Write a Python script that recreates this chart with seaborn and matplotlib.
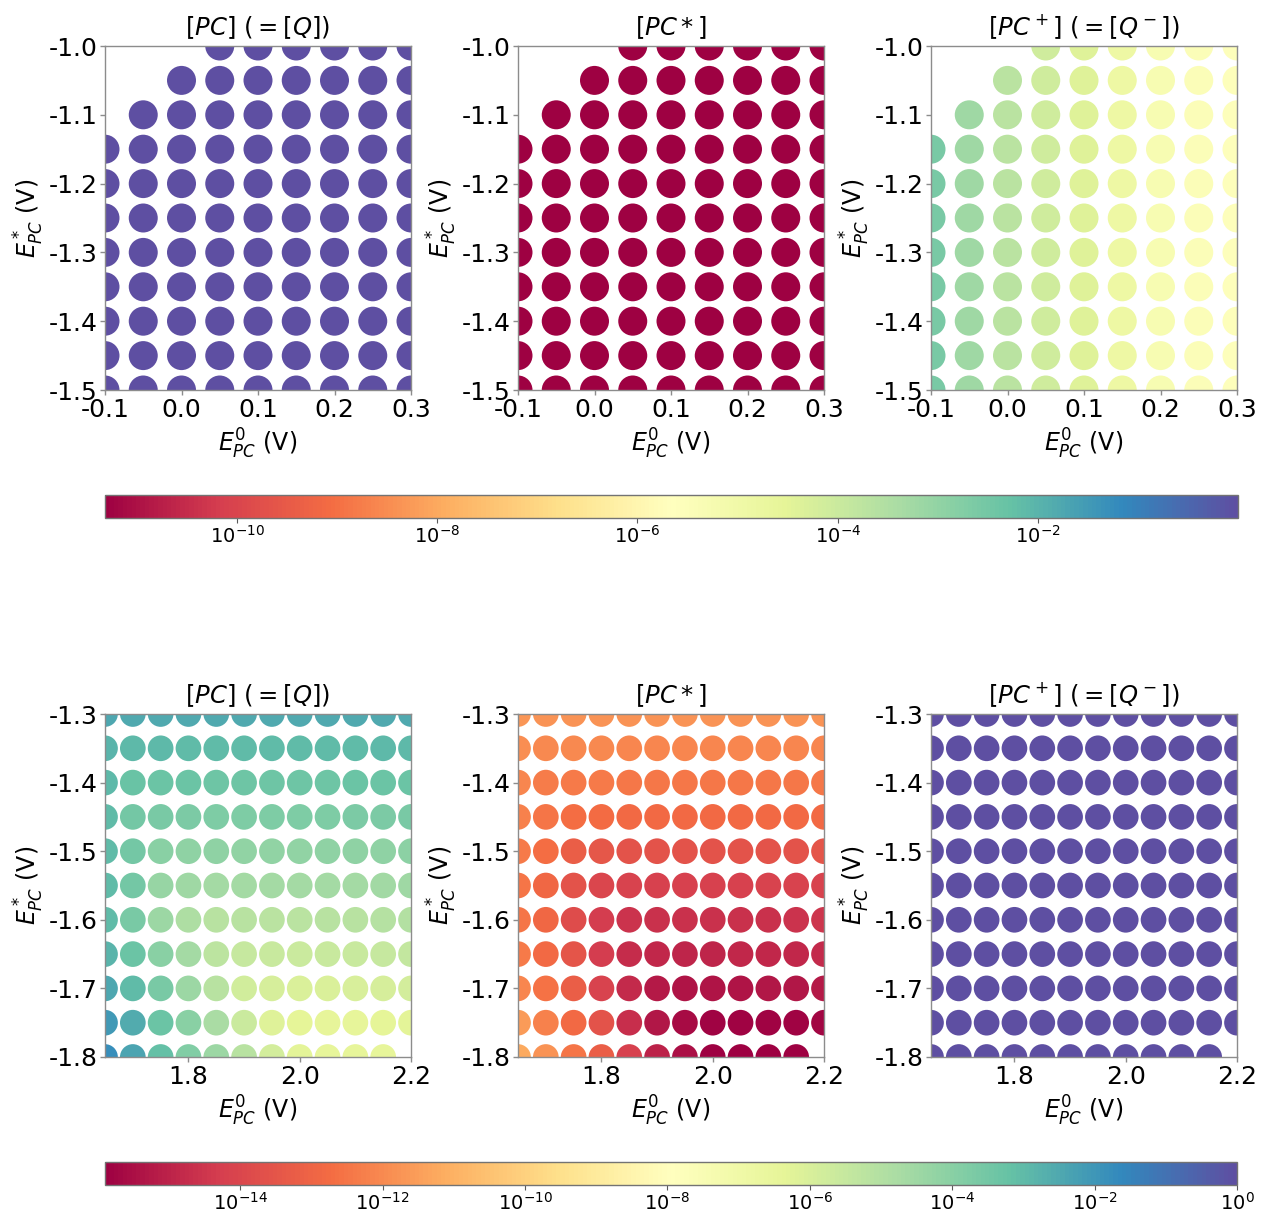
import numpy as np
import pandas as pd
import matplotlib
matplotlib.use("Agg")
import matplotlib.pyplot as plt
from matplotlib.colors import LogNorm
from matplotlib.cm import ScalarMappable
import seaborn as sns

# ---------------- grid axes ----------------
E0_TOP = [-0.10, -0.05, 0.00, 0.05, 0.10, 0.15, 0.20, 0.25, 0.30]
ESTAR_TOP = [-1.00, -1.05, -1.10, -1.15, -1.20, -1.25, -1.30, -1.35, -1.40, -1.45, -1.50]

E0_BOT = [1.65, 1.70, 1.75, 1.80, 1.85, 1.90, 1.95, 2.00, 2.05, 2.10, 2.15, 2.20]
ESTAR_BOT = [-1.30, -1.35, -1.40, -1.45, -1.50, -1.55, -1.60, -1.65, -1.70, -1.75, -1.80]

nan = np.nan

# ---------------- log10 concentrations, rows follow ESTAR, columns follow E0 ----------------
LOG_PC_TOP = [
    [nan, nan, nan, 0.0, 0.0, 0.0, 0.0, 0.0, 0.0],
    [nan, nan, 0.0, 0.0, 0.0, 0.0, 0.0, 0.0, 0.0],
    [nan, 0.0, 0.0, 0.0, 0.0, 0.0, 0.0, 0.0, 0.0],
    [0.0, 0.0, 0.0, 0.0, 0.0, 0.0, 0.0, 0.0, 0.0],
    [0.0, 0.0, 0.0, 0.0, 0.0, 0.0, 0.0, 0.0, 0.0],
    [0.0, 0.0, 0.0, 0.0, 0.0, 0.0, 0.0, 0.0, 0.0],
    [0.0, 0.0, 0.0, 0.0, 0.0, 0.0, 0.0, 0.0, 0.0],
    [0.0, 0.0, 0.0, 0.0, 0.0, 0.0, 0.0, 0.0, 0.0],
    [0.0, 0.0, 0.0, 0.0, 0.0, 0.0, 0.0, 0.0, 0.0],
    [0.0, 0.0, 0.0, 0.0, 0.0, 0.0, 0.0, 0.0, 0.0],
    [0.0, 0.0, 0.0, 0.0, 0.0, 0.0, 0.0, 0.0, 0.0],
]

LOG_PCSTAR_TOP = [
    [nan, nan, nan, -11.32, -11.32, -11.32, -11.32, -11.32, -11.32],
    [nan, nan, -11.32, -11.32, -11.32, -11.32, -11.32, -11.32, -11.32],
    [nan, -11.32, -11.32, -11.32, -11.32, -11.32, -11.32, -11.32, -11.32],
    [-11.32, -11.32, -11.32, -11.32, -11.32, -11.32, -11.32, -11.32, -11.32],
    [-11.32, -11.32, -11.32, -11.32, -11.32, -11.32, -11.32, -11.32, -11.32],
    [-11.32, -11.32, -11.32, -11.32, -11.32, -11.32, -11.32, -11.32, -11.32],
    [-11.32, -11.32, -11.32, -11.32, -11.32, -11.32, -11.32, -11.32, -11.32],
    [-11.32, -11.32, -11.32, -11.32, -11.32, -11.32, -11.32, -11.32, -11.32],
    [-11.32, -11.32, -11.32, -11.32, -11.32, -11.32, -11.32, -11.32, -11.32],
    [-11.32, -11.32, -11.32, -11.32, -11.32, -11.32, -11.32, -11.32, -11.32],
    [-11.32, -11.32, -11.32, -11.32, -11.32, -11.32, -11.32, -11.32, -11.32],
]

LOG_PCPLUS_TOP = [
    [nan, nan, nan, -4.10, -4.40, -4.90, -5.30, -5.45, -5.55],
    [nan, nan, -3.70, -4.10, -4.40, -4.90, -5.30, -5.45, -5.55],
    [nan, -3.20, -3.70, -4.10, -4.40, -4.90, -5.30, -5.45, -5.55],
    [-2.60, -3.20, -3.70, -4.10, -4.40, -4.90, -5.30, -5.45, -5.55],
    [-2.60, -3.20, -3.70, -4.10, -4.40, -4.90, -5.30, -5.45, -5.55],
    [-2.60, -3.20, -3.70, -4.10, -4.40, -4.90, -5.30, -5.45, -5.55],
    [-2.60, -3.20, -3.70, -4.10, -4.40, -4.90, -5.30, -5.45, -5.55],
    [-2.60, -3.20, -3.70, -4.10, -4.40, -4.90, -5.30, -5.45, -5.55],
    [-2.60, -3.20, -3.70, -4.10, -4.40, -4.90, -5.30, -5.45, -5.55],
    [-2.60, -3.20, -3.70, -4.10, -4.40, -4.90, -5.30, -5.45, -5.55],
    [-2.60, -3.20, -3.70, -4.10, -4.40, -4.90, -5.30, -5.45, -5.55],
]

LOG_PC_BOT = [
    [-2.45, -2.50, -2.50, -2.50, -2.50, -2.50, -2.50, -2.50, -2.50, -2.50, -2.50, -2.50],
    [-2.85, -2.95, -2.95, -3.00, -3.00, -3.00, -3.00, -3.00, -3.00, -3.00, -2.95, -2.95],
    [-2.95, -3.25, -3.35, -3.35, -3.40, -3.40, -3.40, -3.40, -3.40, -3.35, -3.35, -3.30],
    [-3.00, -3.50, -3.65, -3.70, -3.75, -3.75, -3.75, -3.75, -3.75, -3.70, -3.70, -3.65],
    [-3.00, -3.50, -4.00, -4.10, -4.15, -4.20, -4.20, -4.20, -4.15, -4.15, -4.10, -4.05],
    [-3.00, -3.50, -4.30, -4.50, -4.60, -4.65, -4.65, -4.65, -4.60, -4.60, -4.55, -4.50],
    [-3.00, -3.65, -4.45, -4.90, -5.10, -5.15, -5.20, -5.20, -5.15, -5.10, -5.05, -5.00],
    [-2.85, -3.35, -4.00, -4.60, -5.25, -5.50, -5.55, -5.60, -5.55, -5.55, -5.50, -5.45],
    [-2.45, -3.00, -3.65, -4.45, -5.10, -5.80, -5.95, -6.05, -6.05, -6.00, -5.95, -5.90],
    [-2.05, -2.60, -3.35, -4.00, -4.75, -5.60, -6.20, -6.35, -6.40, -6.40, -6.35, -6.30],
    [-1.75, -2.40, -3.15, -3.80, -4.45, -5.10, -5.85, -6.30, -6.45, -6.45, -6.40, nan],
]

LOG_PCSTAR_BOT = [
    [-11.70, -11.75, -11.75, -11.80, -11.80, -11.80, -11.80, -11.80, -11.80, -11.80, -11.80, -11.80],
    [-11.90, -12.00, -12.00, -12.00, -12.05, -12.05, -12.05, -12.05, -12.05, -12.05, -12.05, -12.05],
    [-12.10, -12.30, -12.40, -12.40, -12.45, -12.45, -12.45, -12.45, -12.45, -12.45, -12.45, -12.45],
    [-12.20, -12.50, -12.70, -12.75, -12.80, -12.80, -12.80, -12.80, -12.80, -12.80, -12.80, -12.80],
    [-12.40, -12.70, -13.20, -13.45, -13.55, -13.60, -13.60, -13.60, -13.60, -13.60, -13.55, -13.50],
    [-12.50, -12.90, -13.60, -14.00, -14.15, -14.20, -14.20, -14.20, -14.20, -14.15, -14.10, -14.10],
    [-12.50, -12.90, -13.80, -14.30, -14.55, -14.60, -14.65, -14.65, -14.60, -14.60, -14.55, -14.50],
    [-12.40, -12.80, -13.50, -14.30, -14.75, -14.90, -14.95, -14.95, -14.90, -14.90, -14.85, -14.80],
    [-12.10, -12.60, -13.20, -14.10, -14.80, -15.25, -15.35, -15.35, -15.35, -15.30, -15.30, -15.25],
    [-11.60, -12.20, -12.80, -13.60, -14.70, -15.30, -15.65, -15.80, -15.82, -15.80, -15.80, -15.75],
    [-11.20, -11.80, -12.50, -13.20, -14.20, -15.00, -15.50, -15.85, -15.90, -15.90, -15.90, nan],
]

LOG_PCPLUS_BOT = [
    [0.0] * 12, [0.0] * 12, [0.0] * 12, [0.0] * 12, [0.0] * 12, [0.0] * 12,
    [0.0] * 12, [0.0] * 12, [0.0] * 12, [0.0] * 12,
    [0.0, 0.0, 0.0, 0.0, 0.0, 0.0, 0.0, 0.0, 0.0, 0.0, 0.0, nan],
]

TITLES = [r"$[PC]\ (=[Q])$", r"$[PC*]$", r"$[PC^+]\ (=[Q^-])$"]
XLABEL = r"$E^0_{PC}$ (V)"
YLABEL = r"$E^*_{PC}$ (V)"

TOP_LOG_RANGE = (-11.32, 0.0)
BOT_LOG_RANGE = (-15.9, 0.0)
TOP_CBAR_TICKS = [1e-10, 1e-8, 1e-6, 1e-4, 1e-2]
BOT_CBAR_TICKS = [1e-14, 1e-12, 1e-10, 1e-8, 1e-6, 1e-4, 1e-2, 1e0]


def long_frame(e0, estar, logs):
    rows = []
    for i, ys in enumerate(estar):
        for j, xs in enumerate(e0):
            v = logs[i][j]
            if not np.isnan(v):
                rows.append({"E0": xs, "Estar": ys, "conc": 10.0 ** v})
    return pd.DataFrame(rows)


sns.set_style("white")
plt.rcParams["axes.unicode_minus"] = False
plt.rcParams["font.family"] = ["DejaVu Sans"]
plt.rcParams["text.color"] = "black"
plt.rcParams["axes.labelcolor"] = "black"

W, H = 1262, 1217
fig = plt.figure(figsize=(W / 100, H / 100), dpi=100)


def px_axes(x0, y0, x1, y1):
    return fig.add_axes([x0 / W, 1 - y1 / H, (x1 - x0) / W, (y1 - y0) / H])


lefts = [105, 518, 931]
panel_w = 306

cmap = sns.color_palette("Spectral", as_cmap=True)

rows_spec = [
    dict(e0=E0_TOP, estar=ESTAR_TOP,
         data=[LOG_PC_TOP, LOG_PCSTAR_TOP, LOG_PCPLUS_TOP],
         rng=TOP_LOG_RANGE, ticks=TOP_CBAR_TICKS,
         y0=46, y1=390, xlim=(-0.1, 0.3), ylim=(-1.5, -1.0),
         xticks=[-0.1, 0.0, 0.1, 0.2, 0.3],
         yticks=[-1.0, -1.1, -1.2, -1.3, -1.4, -1.5],
         size=436, cbar=(105, 495, 1238, 518)),
    dict(e0=E0_BOT, estar=ESTAR_BOT,
         data=[LOG_PC_BOT, LOG_PCSTAR_BOT, LOG_PCPLUS_BOT],
         rng=BOT_LOG_RANGE, ticks=BOT_CBAR_TICKS,
         y0=714, y1=1057, xlim=(1.65, 2.2), ylim=(-1.8, -1.3),
         xticks=[1.8, 2.0, 2.2],
         yticks=[-1.3, -1.4, -1.5, -1.6, -1.7, -1.8],
         size=342, cbar=(105, 1162, 1237, 1185)),
]

spine_col = "0.55"

for spec in rows_spec:
    norm = LogNorm(vmin=10 ** spec["rng"][0], vmax=10 ** spec["rng"][1])
    for k in range(3):
        ax = px_axes(lefts[k], spec["y0"], lefts[k] + panel_w, spec["y1"])
        df = long_frame(spec["e0"], spec["estar"], spec["data"][k])
        sns.scatterplot(data=df, x="E0", y="Estar", hue="conc", hue_norm=norm,
                        palette=cmap, s=spec["size"], linewidth=0,
                        legend=False, ax=ax)
        ax.set_xlim(*spec["xlim"])
        ax.set_ylim(*spec["ylim"])
        ax.set_xticks(spec["xticks"])
        ax.set_yticks(spec["yticks"])
        ax.xaxis.set_major_formatter(matplotlib.ticker.FormatStrFormatter("%.1f"))
        ax.yaxis.set_major_formatter(matplotlib.ticker.FormatStrFormatter("%.1f"))
        ax.tick_params(axis="both", labelsize=18, length=3.5, width=1,
                       color=spine_col, labelcolor="black",
                       bottom=True, left=True, pad=2)
        for sp in ax.spines.values():
            sp.set_color(spine_col)
            sp.set_linewidth(1.0)
        ax.set_title(TITLES[k], fontsize=17.5, pad=8, color="black")
        ax.set_xlabel(XLABEL, fontsize=17, labelpad=4)
        ax.set_ylabel(YLABEL, fontsize=17, labelpad=2)

    cx0, cy0, cx1, cy1 = spec["cbar"]
    cax = px_axes(cx0, cy0, cx1, cy1)
    sm = ScalarMappable(norm=norm, cmap=cmap)
    cb = fig.colorbar(sm, cax=cax, orientation="horizontal")
    cb.set_ticks(spec["ticks"])
    cb.ax.xaxis.set_minor_locator(matplotlib.ticker.NullLocator())
    cb.ax.tick_params(labelsize=14, length=3.5, pad=1.5, color="0.35",
                      labelcolor="black")
    cb.outline.set_edgecolor("0.45")
    cb.outline.set_linewidth(1.0)

fig.savefig("out.png", dpi=100, facecolor="white")
